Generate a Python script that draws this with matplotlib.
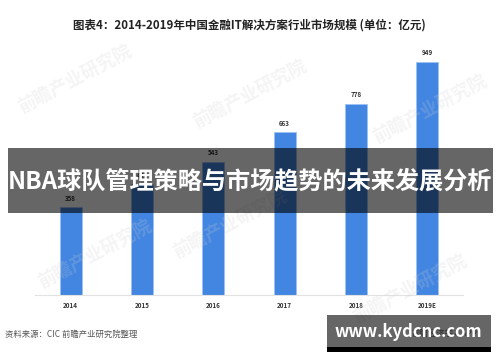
import matplotlib
matplotlib.use("Agg")
import matplotlib.pyplot as plt
import matplotlib.patches as mpatches
import numpy as np

plt.rcParams['font.family'] = ['Noto Sans CJK SC', 'DejaVu Sans']

# data
years = ["2014", "2015", "2016", "2017", "2018", "2019E"]
market_size = [358, 452, 543, 663, 778, 949]
value_labels = ["358", "452", "543", "663", "778", "949"]

title = "图表4：2014-2019年中国金融IT解决方案行业市场规模 (单位：亿元)"
banner_text = "NBA球队管理策略与市场趋势的未来发展分析"
source_text = "资料来源：CIC 前瞻产业研究院整理"
site_text = "www.kydcnc.com"
app_text = "前瞻经济学人APP"
watermark = "前瞻产业研究院"

W, H = 500, 362
fig = plt.figure(figsize=(W / 100, H / 100), dpi=100)
fig.patch.set_facecolor("white")

# faint watermarks
for wx, wy in [(75, 80), (250, 95), (430, 110), (230, 225), (410, 290), (95, 255)]:
    fig.text(wx / W, 1 - wy / H, watermark, fontsize=13, color="#d0d0d0",
             alpha=0.22, rotation=28, ha="center", va="center", fontweight="bold")

ax = fig.add_axes([35 / W, 1 - 295 / H, 428 / W, 255 / H])
x = np.arange(len(years))
ax.bar(x, market_size, width=0.31, color="#4286E2", edgecolor="#9cc3f5", linewidth=0.6, zorder=2)
for xi, v, lab in zip(x, market_size, value_labels):
    ax.text(xi, v + 22, lab, ha="center", va="bottom", fontsize=4.5,
            fontweight="bold", color="#333333")

ax.set_xlim(-0.5, 5.5)
ax.set_ylim(0, 1038)
ax.set_xticks(x)
ax.set_xticklabels(years, fontsize=4.5, fontweight="bold", color="#333333")
ax.tick_params(axis="x", length=0, pad=5)
ax.set_yticks([])
for side in ["left", "right", "top"]:
    ax.spines[side].set_visible(False)
ax.spines["bottom"].set_color("#e2e2e2")
ax.spines["bottom"].set_linewidth(0.8)
ax.patch.set_alpha(0)

fig.text(249 / W, 1 - 25 / H, title, ha="center", va="center", fontsize=8.3,
         fontweight="bold", color="#222222")

# dark banner across the middle
fig.patches.append(mpatches.Rectangle((8 / W, 1 - 213 / H), 485 / W, 65 / H,
                                      transform=fig.transFigure, facecolor="black",
                                      alpha=0.6, edgecolor="none", zorder=5))
fig.text(250 / W, 1 - 181 / H, banner_text, ha="center", va="center", fontsize=17.4,
         fontweight="bold", color="white", zorder=6)

fig.text(5 / W, 1 - 334 / H, source_text, ha="left", va="center", fontsize=6,
         color="#555555")

# site badge bottom right
fig.text(412 / W, 1 - 333 / H, app_text, ha="left", va="center", fontsize=6,
         color="#777777")
fig.patches.append(mpatches.Rectangle((327 / W, 1 - 347 / H), 164 / W, 32 / H,
                                      transform=fig.transFigure, facecolor="black",
                                      alpha=0.6, edgecolor="none", zorder=5))
fig.patches.append(mpatches.Rectangle((327 / W, 1 - 352 / H), 164 / W, 5 / H,
                                      transform=fig.transFigure, facecolor="black",
                                      edgecolor="none", zorder=5))
fig.text(408 / W, 1 - 332 / H, site_text, ha="center", va="center", fontsize=12,
         fontweight="bold", color="white", zorder=6)

fig.savefig("out.png", dpi=100)
plt.close(fig)
